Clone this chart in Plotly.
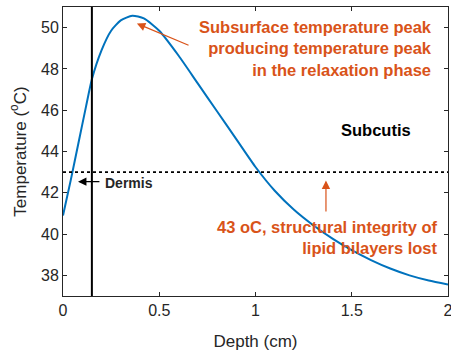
import plotly.graph_objects as go

# Temperature profile through tissue depth
depth_cm = [0.00, 0.04, 0.08, 0.12, 0.15, 0.20, 0.25, 0.30, 0.36, 0.42, 0.50,
            0.60, 0.70, 0.80, 0.90, 1.00, 1.10, 1.20, 1.30, 1.40, 1.50, 1.60,
            1.70, 1.80, 1.90, 2.00]
temperature_c = [40.9, 42.6, 44.4, 46.2, 47.5, 48.9, 49.85, 50.35, 50.58, 50.45,
                 49.85, 48.65, 47.3, 45.95, 44.6, 43.25, 42.1, 41.18, 40.43,
                 39.78, 39.22, 38.74, 38.33, 38.0, 37.75, 37.56]

dermis_depth = 0.15
threshold_temp = 43
x_ticks = [0, 0.5, 1, 1.5, 2]
x_tick_labels = ["0", "0.5", "1", "1.5", "2"]
y_ticks = [38, 40, 42, 44, 46, 48, 50]

BLUE = "#0072BD"
ORANGE = "#D95319"
AXIS = "#262626"
FONT = "Liberation Sans, Arial, sans-serif"

fig = go.Figure()

fig.add_trace(go.Scatter(
    x=depth_cm, y=temperature_c, mode="lines",
    line=dict(color=BLUE, width=2, shape="spline", smoothing=0.6),
    showlegend=False, hoverinfo="skip",
))

# dotted 43 °C threshold line
fig.add_trace(go.Scatter(
    x=[x_ticks[0], x_ticks[-1]], y=[threshold_temp, threshold_temp], mode="lines",
    line=dict(color="black", width=1.6, dash="dot"),
    showlegend=False, hoverinfo="skip",
))

# dermis / subcutis boundary
fig.add_trace(go.Scatter(
    x=[dermis_depth, dermis_depth], y=[37, 51], mode="lines",
    line=dict(color="black", width=2),
    showlegend=False, hoverinfo="skip",
))

text_font_orange = dict(family=FONT, size=16.5, color=ORANGE)

annotations = [
    dict(x=1.925, y=48.98, xref="x", yref="y", showarrow=False,
         xanchor="right", yanchor="middle", align="right",
         text="<b>Subsurface temperature peak<br>producing temperature peak<br>in the relaxation phase</b>",
         font=text_font_orange),
    dict(x=1.626, y=45.02, xref="x", yref="y", showarrow=False,
         xanchor="center", yanchor="middle",
         text="<b>Subcutis</b>", font=dict(family=FONT, size=16.5, color="black")),
    dict(x=0.21, y=42.49, xref="x", yref="y", showarrow=False,
         xanchor="left", yanchor="middle",
         text="<b>Dermis</b>", font=dict(family=FONT, size=14, color=AXIS)),
    dict(x=1.958, y=39.85, xref="x", yref="y", showarrow=False,
         xanchor="right", yanchor="middle", align="right",
         text="<b>43 oC, structural integrity of<br>lipid bilayers lost</b>",
         font=text_font_orange),
    # arrows
    dict(x=0.384, y=50.2, ax=0.66, ay=49.12, xref="x", yref="y", axref="x", ayref="y",
         text="", showarrow=True, arrowhead=2, arrowsize=1.4, arrowwidth=1.2,
         arrowcolor=ORANGE),
    dict(x=1.366, y=42.59, ax=1.366, ay=41.02, xref="x", yref="y", axref="x", ayref="y",
         text="", showarrow=True, arrowhead=2, arrowsize=1.4, arrowwidth=1.2,
         arrowcolor=ORANGE),
    dict(x=0.078, y=42.54, ax=0.197, ay=42.54, xref="x", yref="y", axref="x", ayref="y",
         text="", showarrow=True, arrowhead=2, arrowsize=1.4, arrowwidth=1.2,
         arrowcolor="black"),
]

fig.update_layout(
    width=451, height=351,
    margin=dict(l=63, r=3, t=7, b=55, autoexpand=False),
    paper_bgcolor="white", plot_bgcolor="white",
    font=dict(family=FONT, color=AXIS),
    annotations=annotations,
)

fig.update_xaxes(
    range=[0, 2], tickvals=x_ticks, ticktext=x_tick_labels,
    ticks="inside", ticklen=4, tickcolor=AXIS, tickwidth=1,
    showline=True, linecolor=AXIS, linewidth=1, mirror="ticks",
    showgrid=False, zeroline=False, ticklabeloverflow="allow", automargin=False,
    tickfont=dict(family=FONT, size=16, color=AXIS),
    title=dict(text="Depth (cm)", font=dict(family=FONT, size=17, color=AXIS), standoff=17),
)
fig.update_yaxes(
    range=[37, 51], tickvals=y_ticks,
    ticks="inside", ticklen=4, tickcolor=AXIS, tickwidth=1,
    showline=True, linecolor=AXIS, linewidth=1, mirror="ticks",
    showgrid=False, zeroline=False, automargin=False,
    tickfont=dict(family=FONT, size=16, color=AXIS),
    title=dict(text="Temperature (<sup>o</sup>C)", font=dict(family=FONT, size=17, color=AXIS), standoff=10),
)

fig.write_html("out.html")
